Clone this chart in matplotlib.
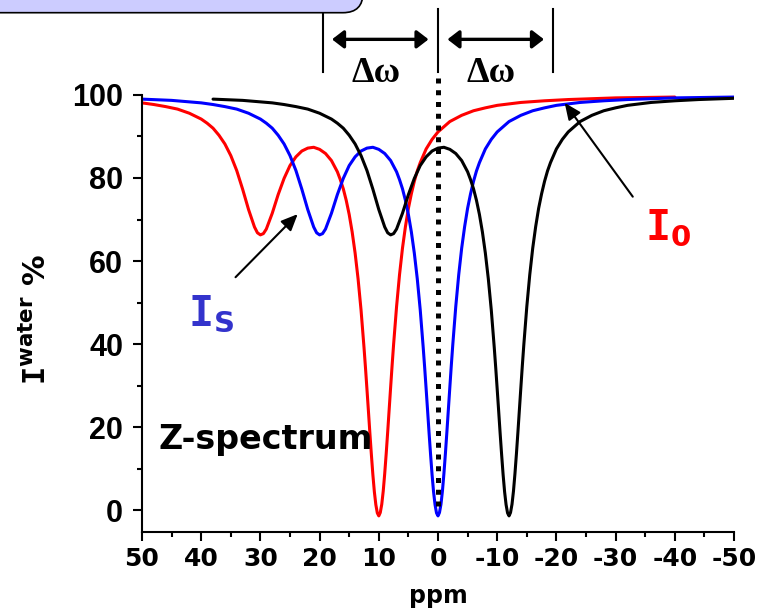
import matplotlib
matplotlib.use("Agg")
import matplotlib.pyplot as plt
from matplotlib.patches import FancyBboxPatch
import numpy as np

plt.rcParams.update({
    'font.family'      : 'DejaVu Sans',
    'font.weight'      : 'bold',
    'mathtext.fontset' : 'custom',
    'mathtext.rm'      : 'DejaVu Sans:bold',
    'mathtext.tt'      : 'DejaVu Sans Mono:bold',
    'axes.unicode_minus': False,
})

# reference Z-spectrum (I0): water saturation + exchange site, % of unsaturated water signal
red_ppm = [60, 55, 50, 48, 46, 44, 42, 40, 39, 38,
           37, 36, 35, 34, 33, 32, 31, 30.5, 30, 29.5,
           29, 28, 27, 26, 25, 24, 23, 22, 21, 20,
           19, 18, 17, 16.5, 16, 15.5, 15, 14.5, 14, 13.5,
           13, 12.5, 12.25, 12, 11.75, 11.5, 11.25, 11, 10.75, 10.5,
           10.25, 10, 9.75, 9.5, 9.25, 9, 8.75, 8.5, 8.25, 8,
           7.75, 7.5, 7, 6.5, 6, 5.5, 5, 4.5, 4, 3.5,
           3, 2, 1, 0, -2, -4, -6, -8, -10, -14,
           -18, -22, -26, -30, -35, -40]
red_pct = [99.0, 98.7, 98.1, 97.7, 97.2, 96.6, 95.6, 94.2, 93.2, 92.0,
           90.3, 88.2, 85.4, 81.8, 77.3, 72.4, 68.2, 66.8, 66.3, 66.6,
           67.7, 71.5, 76.0, 79.9, 83.0, 85.1, 86.5, 87.2, 87.4, 86.9,
           85.9, 84.2, 81.5, 79.6, 77.4, 74.6, 71.2, 67.0, 61.9, 55.7,
           48.2, 39.2, 34.3, 29.1, 23.8, 18.4, 13.3, 8.5, 4.4, 1.3,
           -0.7, -1.4, -0.6, 1.4, 4.6, 8.8, 13.6, 18.8, 24.2, 29.6,
           34.9, 39.9, 49.0, 56.7, 63.1, 68.3, 72.7, 76.2, 79.2, 81.7,
           83.7, 87.0, 89.3, 91.1, 93.6, 95.1, 96.2, 96.9, 97.5, 98.2,
           98.6, 98.9, 99.1, 99.3, 99.4, 99.5]

# the same spectrum offset along the frequency axis
blue_shift = -10
black_shift = -22
delta_w = 19.5

x_ticks = [50, 40, 30, 20, 10, 0, -10, -20, -30, -40, -50]
x_ticklabels = ['50', '40', '30', '20', '10', '0', '-10', '-20', '-30', '-40', '-50']
y_ticks = [0, 20, 40, 60, 80, 100]

fig = plt.figure(figsize=(7.63, 6.10), dpi=100)
ax = fig.add_axes([0.1861, 0.1284, 0.7759, 0.7159])

ppm = np.array(red_ppm)
pct = np.array(red_pct)
line_kw = dict(lw=2.2, solid_joinstyle='round', solid_capstyle='round')
ax.plot(ppm, pct, color='#FF0000', **line_kw)
ax.plot(ppm + blue_shift, pct, color='#0000FF', **line_kw)
ax.plot(ppm + black_shift, pct, color='black', **line_kw)

# water resonance marker
ax.plot([0, 0], [1, 104.5], color='black', lw=3.6, linestyle=(0, (1.0, 1.35)),
        dash_capstyle='butt', clip_on=False, zorder=5)

# offset brackets above the plot
for xb in [delta_w, 0, -delta_w]:
    ax.plot([xb, xb], [105.5, 120.7], color='black', lw=1.5, clip_on=False)
for x0, x1 in [(17.9, 1.6), (-1.6, -17.9)]:
    ax.annotate('', xy=(x1, 113.4), xytext=(x0, 113.4), annotation_clip=False,
                arrowprops=dict(arrowstyle='<|-|>,head_length=0.35,head_width=0.27',
                                lw=2.4, color='black', mutation_scale=20,
                                shrinkA=0, shrinkB=0))
for xt in [10.5, -8.9]:
    ax.text(xt, 103.2, 'Δω', family='Liberation Serif', fontsize=26, fontweight='bold',
            ha='center', va='baseline', clip_on=False)

# curve labels
ax.text(38.3, 47.2, r'$\mathtt{I}_{\mathrm{S}}$', color='#3333CC', fontsize=30,
        ha='center', va='center')
ax.annotate('', xy=(23.7, 71.3), xytext=(34.2, 56.1),
            arrowprops=dict(arrowstyle='-|>,head_length=0.5,head_width=0.22',
                            lw=1.5, color='black', mutation_scale=20, shrinkA=0, shrinkB=0))
ax.text(-38.8, 68.0, r'$\mathtt{I}_{\mathrm{0}}$', color='#FF0000', fontsize=30,
        ha='center', va='center')
ax.annotate('', xy=(-21.4, 98.1), xytext=(-32.9, 75.5),
            arrowprops=dict(arrowstyle='-|>,head_length=0.5,head_width=0.22',
                            lw=1.5, color='black', mutation_scale=20, shrinkA=0, shrinkB=0))
ax.text(47.2, 14.7, 'Z-spectrum', fontsize=24, fontweight='bold', ha='left', va='baseline')

ax.set_xlim(50, -50)
ax.set_ylim(-5.2, 100)
ax.set_xticks(x_ticks)
ax.set_xticklabels(x_ticklabels, fontsize=18, fontweight='bold')
ax.set_xticks(np.arange(-45, 50, 10), minor=True)
ax.set_yticks(y_ticks)
ax.set_yticklabels([str(v) for v in y_ticks], family='Liberation Sans', fontsize=22,
                   fontweight='bold')
ax.set_yticks([10, 30, 50, 70, 90], minor=True)
ax.tick_params(which='major', direction='out', length=6.5, width=1.5)
ax.tick_params(which='minor', direction='out', length=3.6, width=1.5)
ax.tick_params(axis='x', pad=4.3)
ax.tick_params(axis='y', pad=7)
for side in ['top', 'right']:
    ax.spines[side].set_visible(False)
for side in ['left', 'bottom']:
    ax.spines[side].set_linewidth(1.5)

ax.set_xlabel('ppm', fontsize=17, fontweight='bold', va='top')
ax.xaxis.set_label_coords(0.5, -0.12)
ax.set_ylabel(r'$\mathtt{I}^{\mathrm{water}}$ %', fontsize=22, fontweight='bold')
ax.yaxis.label.set_va('center')
ax.yaxis.set_label_coords(-0.179, 0.485)

# title banner cut by the top-left edge
fig.add_artist(FancyBboxPatch((-30, 597.3), 393, 60,
                              boxstyle='round,pad=0,rounding_size=20',
                              facecolor='#CCCCFF', edgecolor='black', lw=1.2,
                              transform=None))

fig.savefig('out.png', dpi=100)
